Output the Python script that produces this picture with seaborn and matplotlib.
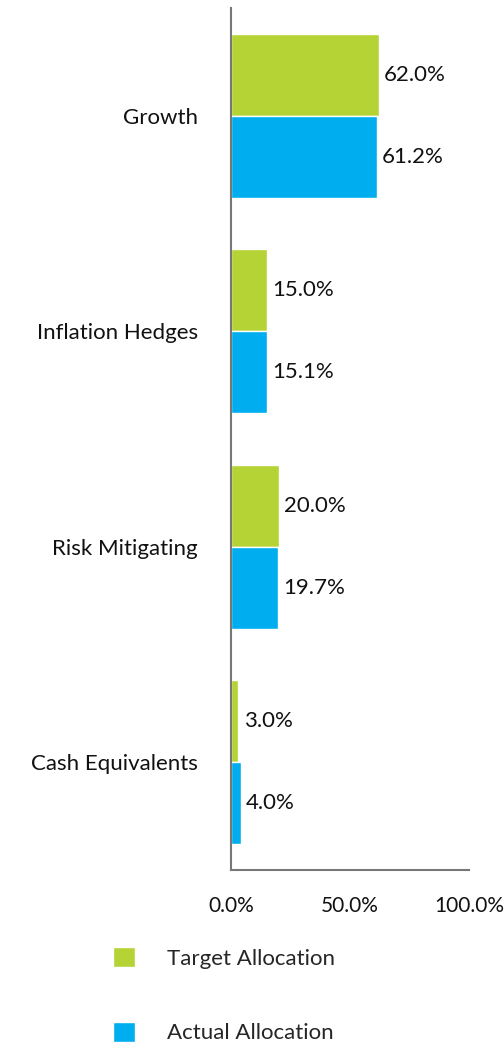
import pandas as pd
import matplotlib
matplotlib.use("Agg")
import matplotlib.pyplot as plt
import seaborn as sns

categories = ["Growth", "Inflation Hedges", "Risk Mitigating", "Cash Equivalents"]
target = [62.0, 15.0, 20.0, 3.0]
actual = [61.2, 15.1, 19.7, 4.0]
series = ["Target Allocation", "Actual Allocation"]
colors = ["#B5D334", "#00AEEF"]
x_ticks = [0, 50, 100]

df = pd.DataFrame({
    "category": categories * 2,
    "value": target + actual,
    "series": [series[0]] * len(categories) + [series[1]] * len(categories),
})

sns.set_theme(style="white")
plt.rcParams["font.family"] = ["Lato", "DejaVu Sans"]
fs = 16

fig = plt.figure(figsize=(5.04, 10.49), dpi=100)
ax = fig.add_axes([231 / 504, 1 - 870 / 1049, (469 - 231) / 504, (870 - 8) / 1049])

sns.barplot(data=df, x="value", y="category", hue="series", orient="h",
            palette=colors, saturation=1, width=0.76, edgecolor="white",
            linewidth=1, ax=ax)

for cont in ax.containers:
    ax.bar_label(cont, fmt="%.1f%%", padding=4, fontsize=fs, color="#111111")

ax.set_xlim(0, 100)
ax.set_ylim(3.5, -0.5)
ax.set_xticks(x_ticks)
ax.set_xticklabels([f"{t:.1f}%" for t in x_ticks])
ax.set_xlabel("")
ax.set_ylabel("")
ax.tick_params(axis="x", length=0, pad=19, labelsize=15, colors="#111111")
ax.tick_params(axis="y", length=0, pad=24, labelsize=fs, colors="#111111")

for side in ["top", "right"]:
    ax.spines[side].set_visible(False)
for side in ["left", "bottom"]:
    ax.spines[side].set_color("#777777")
    ax.spines[side].set_linewidth(1.5)

handles, labels = ax.get_legend_handles_labels()
ax.get_legend().remove()
fig.legend(handles, labels, loc="upper left",
           bbox_to_anchor=(113 / 504, 1 - 947 / 1049), frameon=False,
           fontsize=fs, handlelength=1.0, handleheight=1.0,
           handletextpad=1.44, labelspacing=2.4, borderpad=0,
           borderaxespad=0)

fig.savefig("out.png", dpi=100)
